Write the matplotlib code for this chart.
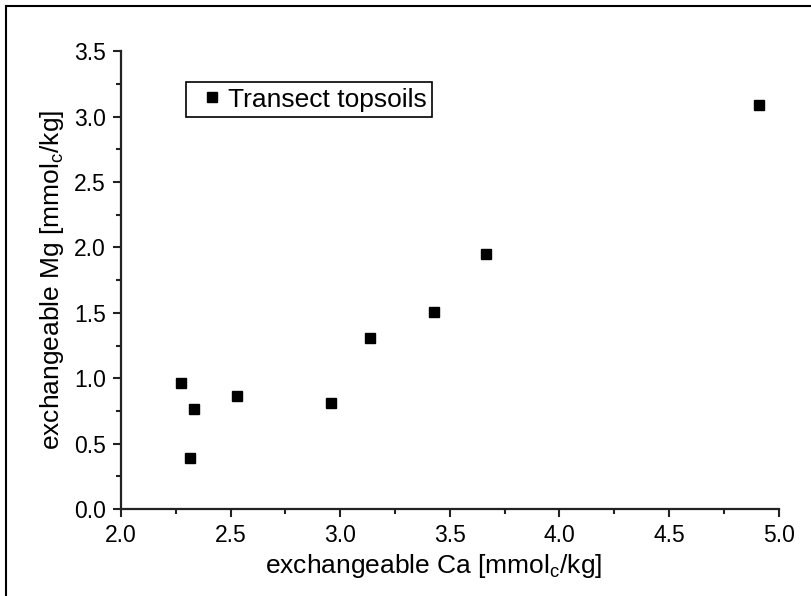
import matplotlib
matplotlib.use("Agg")
import matplotlib.pyplot as plt
from matplotlib.patches import Rectangle
from matplotlib.ticker import MultipleLocator, FormatStrFormatter

plt.rcParams['font.family'] = ['Liberation Sans', 'DejaVu Sans']
plt.rcParams['mathtext.default'] = 'regular'

# exchangeable Ca / Mg of the transect topsoils
ca = [2.275, 2.335, 2.317, 2.527, 2.96, 3.138, 3.427, 3.666, 4.91]
mg = [0.965, 0.766, 0.39, 0.865, 0.81, 1.31, 1.51, 1.95, 3.09]

fig = plt.figure(figsize=(8.12, 5.96), dpi=100)
ax = fig.add_axes([0.149, 0.146, 0.810, 0.768])

# outer frame (only left/top edges visible in the picture)
fig.patches.append(Rectangle((6 / 812, -0.1), 1.2, 1 - 6 / 596 + 0.1,
                             transform=fig.transFigure, fill=False,
                             edgecolor='black', linewidth=1.5))

ax.plot(ca, mg, 's', color='black', markersize=6.7, label='Transect topsoils')

ax.set_xlim(2.0, 5.0)
ax.set_ylim(0.0, 3.5)
ax.xaxis.set_major_locator(MultipleLocator(0.5))
ax.xaxis.set_minor_locator(MultipleLocator(0.25))
ax.yaxis.set_major_locator(MultipleLocator(0.5))
ax.yaxis.set_minor_locator(MultipleLocator(0.25))
ax.xaxis.set_major_formatter(FormatStrFormatter('%.1f'))
ax.yaxis.set_major_formatter(FormatStrFormatter('%.1f'))

for s in ['top', 'right']:
    ax.spines[s].set_visible(False)
for s in ['left', 'bottom']:
    ax.spines[s].set_linewidth(1.6)
    ax.spines[s].set_color('#222222')

ax.tick_params(which='major', direction='out', length=6, width=1.5,
               labelsize=16.5, color='#222222', pad=5)
ax.tick_params(which='minor', direction='out', length=3.5, width=1.5,
               color='#222222')

ax.set_xlabel('exchangeable Ca [mmol$_c$/kg]', fontsize=19)
ax.xaxis.set_label_coords(0.476, -0.095)
ax.set_ylabel('exchangeable Mg [mmol$_c$/kg]', fontsize=19, labelpad=6)

leg = ax.legend(loc='upper left', bbox_to_anchor=(0.099, 0.932),
                borderaxespad=0, fontsize=19, fancybox=False, framealpha=1,
                handlelength=1.6, handletextpad=-0.2, borderpad=0.2)
leg.get_frame().set_edgecolor('black')
leg.get_frame().set_linewidth(1.2)

fig.savefig('out.png', dpi=100)
